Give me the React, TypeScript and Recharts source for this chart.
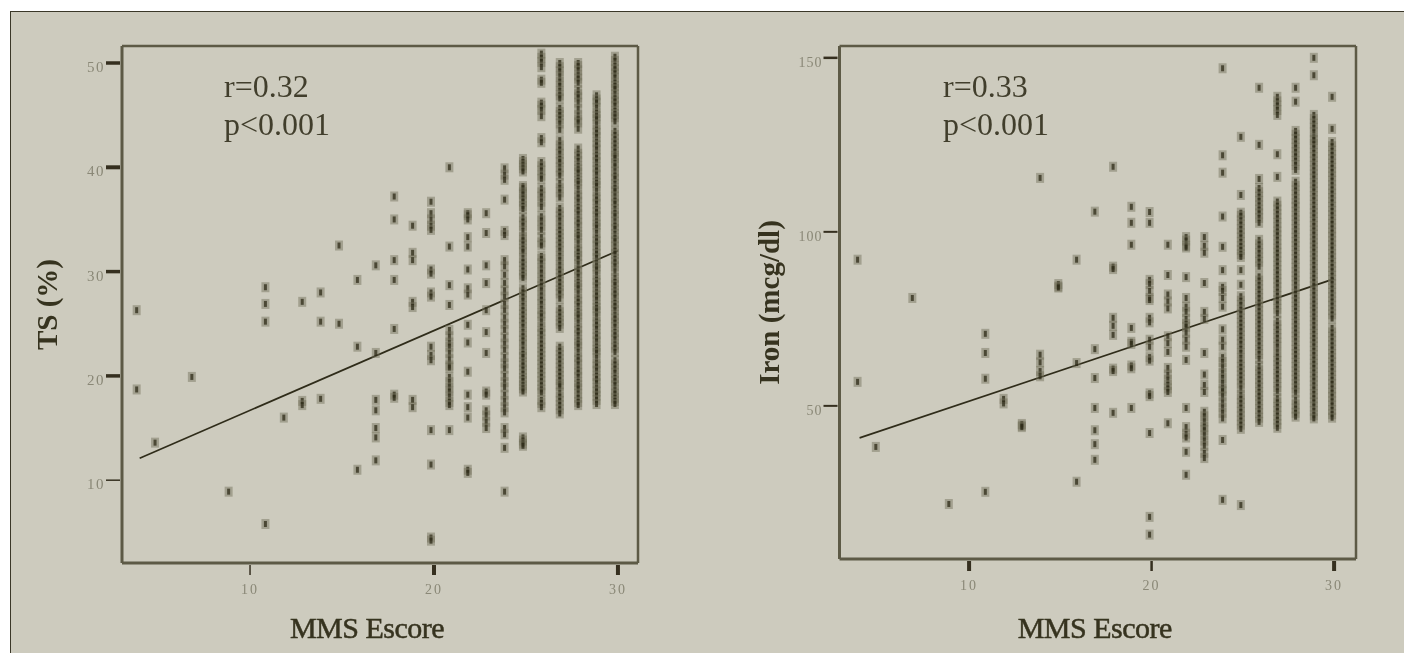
import { Label, ReferenceLine, Scatter, ScatterChart, XAxis, YAxis } from "recharts";

const scores = [4, 5, 7, 9, 11, 12, 13, 14, 15, 16, 17, 18, 19, 20, 21, 22, 23, 24, 25, 26, 27, 28, 29, 30];

// TS (%) read per MMSE score
const ts4 = [26.3, 18.7];
const ts5 = [13.6];
const ts7 = [19.9];
const ts9 = [8.9];
const ts11 = [28.5, 26.9, 25.2, 5.8];
const ts12 = [16];
const ts13 = [27.1, 17.6, 17.2];
const ts14 = [28, 25.2, 17.8];
const ts15 = [32.5, 25];
const ts16 = [29.2, 22.8, 11];
const ts17 = [30.6, 22.2, 17.7, 16.7, 15, 14.1, 11.9];
const ts18 = [37.2, 35, 31.1, 29.2, 24.5, 18.2, 17.9];
const ts19 = [34.4, 31.8, 31.1, 27.1, 26.6, 17.7, 17];
const ts20 = [36.7, 35.6, 35, 34.4, 34, 30.2, 29.8, 28, 27.6, 22.8, 22, 21.5, 14.8, 11.5, 4.5, 4.2];
const ts21 = [40, 32.4, 28.7, 26.8, 24.4, 23.8, 23.2, 22.8, 22.2, 21.6, 21, 20.8, 19.9, 19.4, 18.9, 18.5, 18, 17.5, 17.2, 14.8];
const ts22 = [35.6, 35.4, 35, 33.3, 32.4, 30.2, 28.4, 27.8, 24.9, 23.2, 20.4, 18.2, 17, 16, 11, 10.7];
const ts23 = [35.6, 33.7, 30.6, 28.9, 26.3, 24.2, 22.2, 18.5, 18.2, 16.7, 16.2, 15.6, 15];
const ts24 = [39.9, 39.3, 38.8, 36.9, 33.9, 33.5, 31.1, 30.5, 29.7, 28.9, 28.2, 27.6, 26.9, 26.3, 25.6, 25, 24.4, 23.7, 23.1, 22.5, 21.8, 21.2, 20.7, 20, 19.4, 18.9, 18.2, 17.6, 17, 16.5, 15, 14.4, 13.1, 8.9];
const ts25 = [40.8, 40.5, 40.2, 39.9, 39.6, 38.2, 38, 37.6, 37.4, 37, 36.7, 36.3, 36, 35.2, 34.8, 34.4, 33.9, 33.3, 33, 32.6, 32.2, 31.9, 31.3, 30.9, 30.5, 30.1, 29.7, 29.4, 28.4, 28, 27.6, 27.2, 26.7, 26.3, 25.9, 25.5, 25.1, 24.7, 24.2, 23.8, 23.4, 23, 22.5, 22.1, 21.8, 21.3, 21, 20.6, 20.2, 19.8, 19.5, 19.1, 18.8, 18.5, 14.1, 13.8, 13.5, 13.3];
const ts26 = [50.9, 50.5, 50.1, 49.6, 48.4, 48.1, 46.2, 45.9, 45.5, 44.9, 42.8, 42.4, 40.5, 40.1, 39.7, 39.2, 38.9, 38, 37.6, 37.2, 36.7, 36.2, 35.3, 34.9, 34.4, 34, 33.3, 32.8, 32.5, 31.5, 31.2, 30.8, 30.3, 29.9, 29.4, 29, 28.6, 28.2, 27.7, 27.3, 26.9, 26.4, 26, 25.7, 25.2, 24.7, 24.3, 24, 23.5, 23.1, 22.7, 22.3, 21.9, 21.5, 21.1, 20.7, 20.3, 19.9, 19.5, 19.1, 18.7, 18.4, 17.7, 17.4, 17];
const ts27 = [50, 49.6, 49.2, 48.7, 48.2, 47.8, 47.3, 46.9, 46.6, 45.7, 45.3, 45, 44.6, 44.2, 43.6, 42.6, 42.1, 41.7, 41.3, 40.8, 40.5, 40, 39.6, 39.2, 38.5, 38, 37.6, 37.1, 36.1, 35.7, 35.3, 34.9, 34.4, 34, 33.6, 33.2, 32.8, 32.4, 32, 31.5, 31.1, 30.6, 30.2, 29.8, 29.4, 29, 28.6, 28.2, 27.9, 27.4, 26.5, 26.1, 25.7, 25.3, 25, 24.6, 22.8, 22.4, 22, 21.6, 21.2, 20.8, 20.4, 20, 19.6, 19.2, 19, 18.4, 18, 17.6, 17.2, 16.8, 16.4];
const ts28 = [50, 49.7, 49.3, 48.8, 48.5, 48.1, 47.4, 47, 46.7, 46.2, 45.6, 45, 44.6, 44.3, 43.7, 41.8, 41.3, 41, 40.6, 40.1, 39.8, 39.5, 39, 38.7, 38.4, 37.9, 37.4, 37.1, 36.7, 36.2, 35.9, 35.5, 35, 34.7, 34.3, 33.8, 33.5, 33.2, 32.7, 32.2, 31.9, 31.5, 31.2, 30.7, 30.2, 29.9, 29.5, 29, 28.7, 28.4, 27.9, 27.4, 27.1, 26.7, 26.2, 25.9, 25.6, 25.1, 24.6, 24.3, 23.9, 23.4, 23.1, 22.8, 22.3, 21.8, 21.5, 21.1, 20.6, 20.3, 19.9, 19.4, 19.1, 18.8, 18.3, 17.9, 17.5, 17.2];
const ts29 = [46.9, 46.5, 46.2, 45.7, 45.2, 44.9, 44.6, 44.1, 43.6, 43.3, 42.9, 42.4, 42.1, 41.7, 41.2, 40.9, 40.5, 40, 39.7, 39.3, 38.8, 38.5, 38.2, 37.7, 37.2, 36.9, 36.5, 36, 35.7, 35.3, 34.8, 34.5, 34.2, 33.7, 33.2, 32.9, 32.5, 32, 31.7, 31.3, 30.8, 30.5, 30.2, 29.7, 29.2, 28.9, 28.5, 28, 27.7, 27.3, 26.8, 26.5, 26.2, 25.7, 25.2, 24.9, 24.5, 24, 23.7, 23.3, 22.8, 22.5, 22.2, 21.7, 21.2, 20.9, 20.5, 20, 19.7, 19.3, 18.8, 18.5, 18.1, 17.7, 17.3];
const ts30 = [50.6, 50.2, 49.7, 49.4, 49, 48.6, 48.1, 47.8, 47.5, 47, 46.6, 46.3, 45.9, 45.4, 45.1, 44.8, 44.4, 43.5, 43.1, 42.7, 42.3, 41.9, 41.5, 41.1, 40.9, 40.4, 40.1, 39.6, 39.2, 38.9, 38.4, 38, 37.7, 37.2, 36.8, 36.5, 36, 35.6, 35.3, 34.8, 34.4, 34.1, 33.6, 33.2, 32.9, 32.4, 32, 31.7, 31.2, 30.9, 30.5, 30, 29.4, 29, 28.7, 28.2, 27.9, 27.5, 27, 26.7, 26.3, 25.8, 25.5, 25.1, 24.7, 24.2, 23.9, 23.5, 23, 22.7, 22.3, 21.5, 21.1, 20.7, 20.3, 19.8, 19.5, 19.1, 18.6, 18.3, 17.9, 17.6, 17.3];
const tsValues = [ts4, ts5, ts7, ts9, ts11, ts12, ts13, ts14, ts15, ts16, ts17, ts18, ts19, ts20, ts21, ts22, ts23, ts24, ts25, ts26, ts27, ts28, ts29, ts30];
const tsFit = [{ x: 4, y: 12.1 }, { x: 30, y: 32 }];

// Iron (mcg/dl) read per MMSE score
const iron4 = [92, 56.9];
const iron5 = [38.2];
const iron7 = [81];
const iron9 = [21.8];
const iron11 = [70.7, 65.2, 57.8, 25.3];
const iron12 = [52, 50.7];
const iron13 = [44.8, 44.3, 43.9];
const iron14 = [115.5, 64.7, 62.5, 60, 58.5];
const iron15 = [85, 84.3, 84];
const iron16 = [92, 62.3, 28.2];
const iron17 = [105.8, 66.3, 58, 49.4, 43, 39, 34.5];
const iron18 = [118.7, 90, 89.3, 75.3, 73, 70.4, 60.7, 60, 48];
const iron19 = [107.2, 102.6, 96.3, 72.4, 68.4, 67.8, 61.6, 60.8, 49.4];
const iron20 = [105.7, 102.6, 86.2, 85, 83, 81, 80.4, 75.3, 74, 69, 67, 64, 63, 53.6, 52.8, 42.2, 18.1, 13];
const iron21 = [96.3, 87.6, 82, 80, 78, 70, 68, 65.5, 60.9, 59, 57.5, 56, 55, 54, 45];
const iron22 = [98.5, 97.5, 96, 95.5, 87, 81, 78.5, 77, 75, 73.5, 72.7, 71, 69, 67, 63.2, 49.4, 43.9, 42, 40.9, 36.8, 30.2];
const iron23 = [98.5, 96, 94, 85.3, 77, 75, 65.2, 59, 56, 54, 48.3, 47, 45.5, 44, 43, 41.5, 40, 38.5, 36.5, 35];
const iron24 = [147, 122, 117, 104.4, 95.7, 89, 84.2, 83, 81, 78.5, 72, 69, 67, 64, 62.6, 61, 59.4, 58, 56.5, 55, 54.2, 52.7, 51, 49.5, 48, 46.4, 40.2, 23];
const iron25 = [127.3, 110.6, 105.5, 104.6, 103.3, 102.1, 100.8, 99.6, 98.4, 97.1, 95.9, 94.8, 93.6, 92.8, 89, 84.8, 81.5, 80.2, 79, 77.6, 76.4, 75.1, 73.9, 72.7, 71.5, 70.2, 69, 67.8, 66.4, 65.2, 63.7, 62.4, 61.2, 60, 58.8, 57.6, 56.4, 55, 53.2, 52, 50.8, 49.5, 48.3, 47, 45.8, 44.6, 43.4, 21.5];
const iron26 = [141.4, 125, 115.2, 112.6, 111.4, 110.1, 108.9, 107.6, 106.4, 105.3, 104, 102.6, 97.7, 96.4, 95.2, 93.9, 92.6, 91.4, 90, 87.2, 86, 84.7, 83.5, 82.2, 81, 79.7, 78.5, 77.2, 76, 74.8, 73.6, 72.3, 71.1, 69.9, 68.6, 67.4, 66.1, 64.9, 63.5, 61.5, 60.2, 59, 57.7, 56.5, 55.3, 54, 52.9, 51.6, 50.4, 49.1, 47.9, 46.6, 45.4];
const iron27 = [138.8, 137.5, 136.3, 135, 133.6, 122.3, 115.8, 108.7, 107.5, 106.4, 105.1, 103.9, 102.6, 101.3, 100.1, 99, 97.7, 96.4, 95.2, 94, 92.8, 91.5, 90.3, 89, 87.8, 86.5, 85.4, 84.1, 82.8, 81.6, 80.4, 79.2, 77.9, 76.6, 74.4, 73.2, 72, 70.7, 69.5, 68.2, 67, 65.4, 64.1, 62.9, 61.7, 60.4, 59.2, 58, 56.7, 55.4, 54.2, 52.2, 51, 49.7, 48.5, 47.2, 46, 44.8, 43.7];
const iron28 = [141.4, 137.4, 129, 127.9, 126.7, 125.4, 124.2, 122.9, 121.7, 120.4, 119.2, 117.8, 114.4, 113.2, 111.9, 110.7, 109.4, 108.2, 107.2, 105.8, 104.6, 103.3, 102.1, 100.8, 99.6, 98.3, 97.1, 95.9, 94.6, 93.4, 92.2, 90.9, 89.7, 88.4, 87.2, 86, 84.8, 83.5, 82.2, 81, 79.8, 78.5, 77.3, 76.1, 74.8, 73.6, 72.3, 71.1, 69.9, 68.6, 67.3, 66.1, 64.9, 63.7, 62.4, 61.2, 59.9, 58.7, 57.5, 56.2, 55, 53.8, 51.8, 50.4, 49.2, 48, 46.9];
const iron29 = [150, 145, 133.6, 132.4, 131.1, 129.9, 128.6, 127, 126.4, 125.2, 124, 122.7, 121.5, 120.2, 119, 117.7, 116.5, 115.3, 114, 112.8, 111.6, 110.3, 109.1, 107.8, 106.6, 105.4, 104.2, 102.9, 101.7, 100.4, 99.2, 97.9, 96.7, 95.5, 94.3, 93, 91.8, 90.5, 89.3, 88, 86.8, 85.6, 84.4, 83.1, 81.9, 80.6, 79.4, 78.2, 77, 75.7, 74.5, 73.2, 72, 70.7, 69.5, 68.3, 67.1, 65.8, 64.6, 63.3, 62.1, 60.9, 59.6, 58.4, 57.2, 55.9, 54.7, 53.4, 52.2, 51, 49.8, 48.5, 47.3, 46.4];
const iron30 = [138.8, 129.6, 125.8, 124.6, 123.3, 122.1, 120.9, 119.6, 118.4, 117.2, 115.9, 114.7, 113.4, 112.2, 111, 109.7, 108.5, 107.2, 106, 104.8, 103.5, 102.3, 101, 99.8, 98.6, 97.3, 96.1, 94.9, 93.6, 92.4, 91.1, 89.9, 88.7, 87.4, 86.2, 85, 83.7, 82.5, 81.2, 80, 78.8, 77.5, 76.3, 75.1, 72.4, 71.1, 69.9, 68.6, 67.4, 66.2, 64.9, 63.7, 62.5, 61.2, 60, 58.7, 57.5, 56.3, 55, 53.8, 52.6, 51.3, 50.1, 48.8, 47.6, 46.6];
const ironValues = [iron4, iron5, iron7, iron9, iron11, iron12, iron13, iron14, iron15, iron16, iron17, iron18, iron19, iron20, iron21, iron22, iron23, iron24, iron25, iron26, iron27, iron28, iron29, iron30];
const ironFit = [{ x: 4, y: 40.8 }, { x: 30, y: 86.5 }];

const xTicks = [10, 20, 30];
const tsTicks = [10, 20, 30, 40, 50];
const ironTicks = [50, 100, 150];

const BG = "#cdcbbe";
const INK = "#36331f";
const AXIS = "#5d5a46";
const TICK_TEXT = "#8a8877";
const SERIF = "'Liberation Serif', serif";

function toPoints(values: number[][]) {
  return scores.flatMap((x, i) => values[i].map((y) => ({ x, y })));
}

// the SPSS symbol sits a little left of the tick, with a grey halo round it
function marker(shift: number) {
  return (props: any) => (
    <g>
      <rect x={props.cx + shift - 4} y={props.cy - 5} width={8} height={10} fill="#6f6c57" opacity={0.45} />
      <rect x={props.cx + shift - 1.5} y={props.cy - 3} width={3} height={6} fill="#25220f" opacity={0.7} />
    </g>
  );
}

function yTick(weights: Record<number, number>, fontSize: number, spacing: number) {
  return (props: any) => (
    <g>
      <line x1={props.x - 14} x2={props.x} y1={props.y} y2={props.y} stroke="#352f1f" strokeWidth={weights[props.payload.value]} />
      <text x={props.x - 15} y={props.y + 9} textAnchor="end" fontFamily={SERIF} fontSize={fontSize} letterSpacing={spacing} fill={TICK_TEXT}>
        {props.payload.value}
      </text>
    </g>
  );
}

function xTick(weights: Record<number, number>) {
  return (props: any) => (
    <g>
      <line x1={props.x} x2={props.x} y1={props.y} y2={props.y + 10} stroke="#352f1f" strokeWidth={weights[props.payload.value]} />
      <text x={props.x} y={props.y + 29} textAnchor="middle" fontFamily={SERIF} fontSize={14} letterSpacing={2} fill={TICK_TEXT}>
        {props.payload.value}
      </text>
    </g>
  );
}

function Panel(p: any) {
  return (
    <div style={{ position: "absolute", left: p.left, top: 0, filter: "blur(0.6px)" }}>
      <ScatterChart width={p.width} height={653} margin={p.margin}>
        <XAxis
          type="number"
          dataKey="x"
          domain={p.xDomain}
          ticks={xTicks}
          allowDataOverflow
          tickSize={0}
          tickLine={false}
          height={50}
          stroke={AXIS}
          strokeWidth={3}
          tick={xTick(p.xWeights)}
        >
          <Label
            value="MMS Escore"
            position="bottom"
            offset={p.xTitleOffset}
            dx={p.xTitleShift}
            style={{ fontFamily: SERIF, fontSize: 30, fill: INK, stroke: INK, strokeWidth: 0.5, letterSpacing: -0.5 }}
          />
        </XAxis>
        <YAxis
          type="number"
          dataKey="y"
          domain={p.yDomain}
          ticks={p.yTicks}
          allowDataOverflow
          tickSize={0}
          tickLine={false}
          width={60}
          stroke={AXIS}
          strokeWidth={3}
          tick={yTick(p.yWeights, p.yFont, p.ySpacing)}
        >
          <Label
            value={p.yTitle}
            angle={-90}
            position="left"
            offset={p.yTitleOffset}
            style={{ fontFamily: SERIF, fontSize: 29, fontWeight: "bold", fill: INK, textAnchor: "middle" }}
          />
        </YAxis>
        <ReferenceLine x={p.xDomain[1]} stroke={AXIS} strokeWidth={2.5} />
        <ReferenceLine y={p.yDomain[1]} stroke={AXIS} strokeWidth={2.5} />
        <Scatter data={p.points} shape={marker(p.shift)} isAnimationActive={false} />
        <ReferenceLine segment={p.fit} stroke="#2f2c1a" strokeWidth={1.7} />
      </ScatterChart>
      <div style={{ position: "absolute", left: p.noteLeft, top: 67, fontFamily: SERIF, fontSize: 32, lineHeight: "38px", color: "#413e2c" }}>
        <div>{p.note}</div>
        <div>{"p<0.001"}</div>
      </div>
    </div>
  );
}

export default function App() {
  return (
    <div style={{ position: "fixed", left: 0, top: 0, width: 1404, height: 653, background: "#fff", overflow: "hidden" }}>
      <div style={{ position: "absolute", left: 10, top: 11, width: 1394, height: 650, background: BG, borderTop: "1px solid #3a3728", borderLeft: "1px solid #3a3728" }} />
      <Panel
        left={0}
        width={700}
        margin={{ top: 46, right: 62, bottom: 40, left: 62 }}
        xDomain={[3.04, 31.09]}
        yDomain={[2.06, 51.63]}
        yTicks={tsTicks}
        xWeights={{ 10: 1.5, 20: 4, 30: 4 }}
        yWeights={{ 50: 3.5, 40: 4, 30: 3.5, 20: 3.5, 10: 1.5 }}
        yFont={15}
        ySpacing={1.5}
        yTitle="TS (%)"
        yTitleOffset={15}
        xTitleOffset={4}
        xTitleShift={-13}
        points={toPoints(tsValues)}
        fit={tsFit}
        shift={-3}
        note="r=0.32"
        noteLeft={224}
      />
      <Panel
        left={700}
        width={704}
        margin={{ top: 46, right: 48, bottom: 44, left: 79.5 }}
        xDomain={[2.9, 31.2]}
        yDomain={[6, 153.4]}
        yTicks={ironTicks}
        xWeights={{ 10: 4, 20: 2.5, 30: 4 }}
        yWeights={{ 150: 2.5, 100: 2, 50: 2 }}
        yFont={14}
        ySpacing={1}
        yTitle="Iron (mcg/dl)"
        yTitleOffset={11}
        xTitleOffset={8}
        xTitleShift={-3}
        points={toPoints(ironValues)}
        fit={ironFit}
        shift={-2}
        note="r=0.33"
        noteLeft={243}
      />
    </div>
  );
}
